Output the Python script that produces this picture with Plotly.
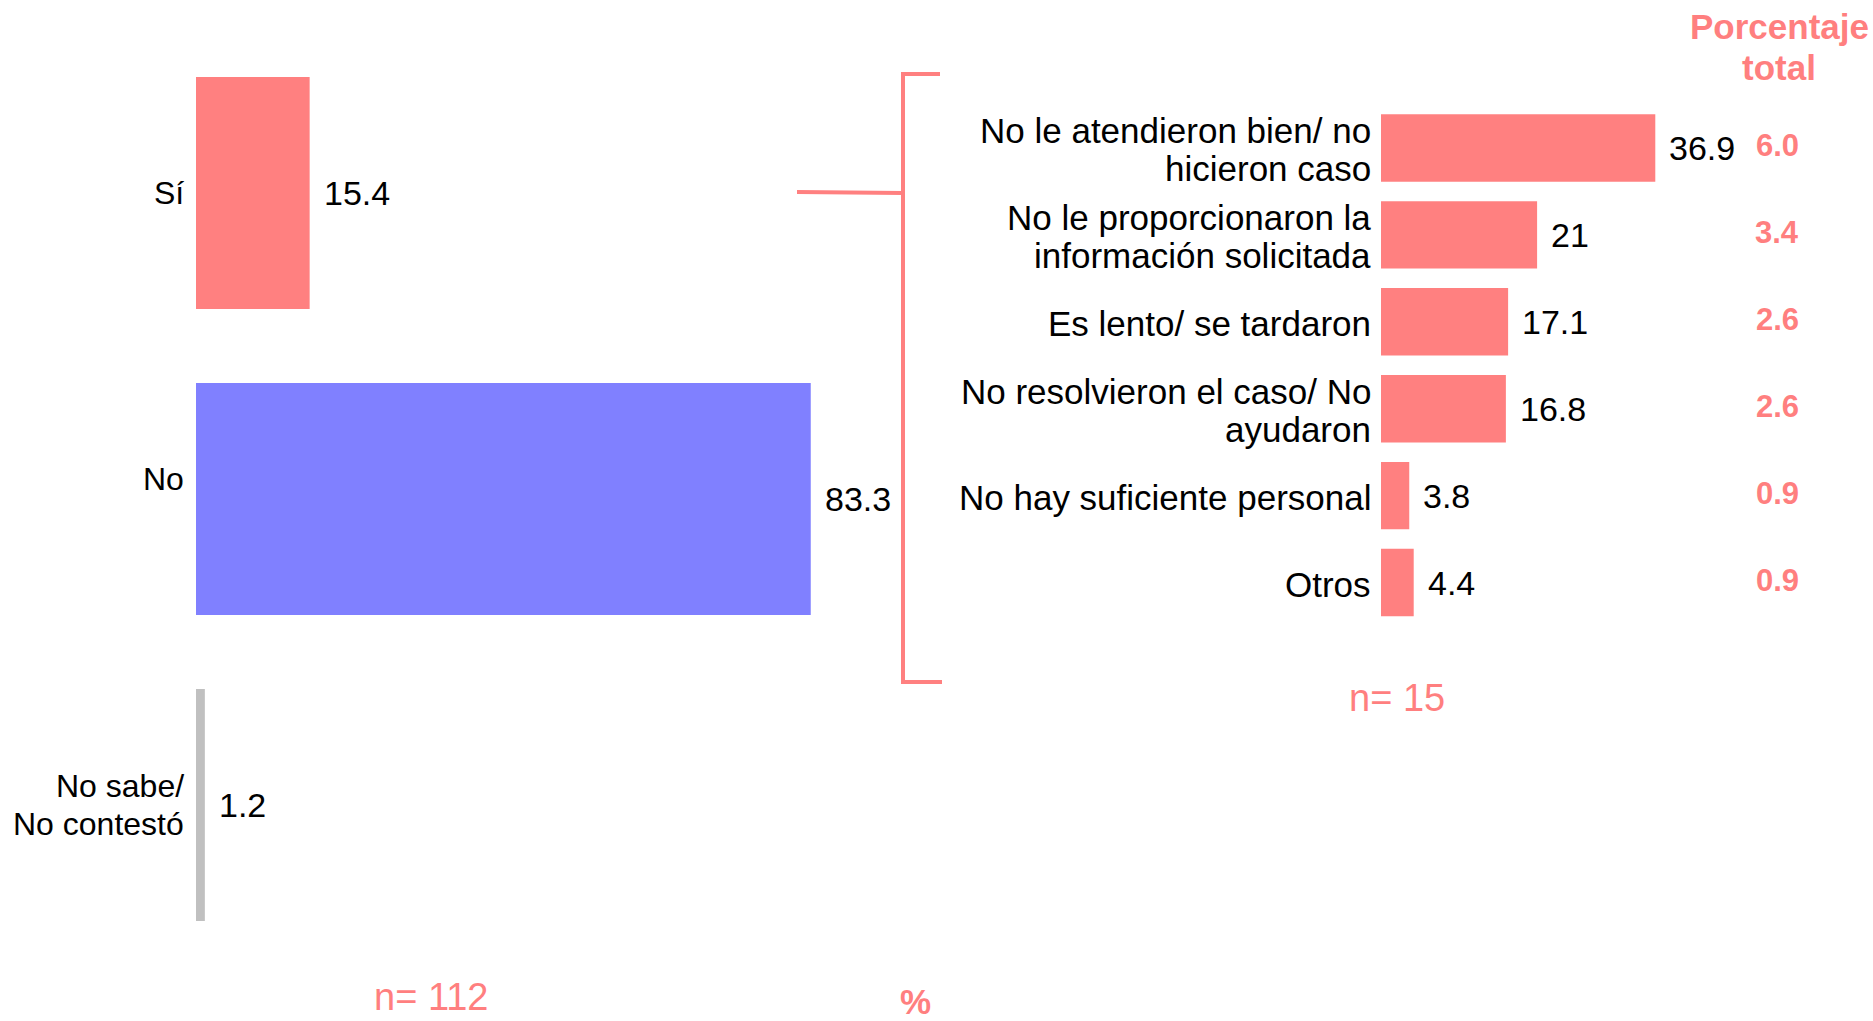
import plotly.graph_objects as go

# Pregunta principal
resp_labels = ["Sí", "No", "No sabe/<br>No contestó"]
resp_values = [15.4, 83.3, 1.2]
resp_colors = ["#FF8080", "#8080FF", "#C0C0C0"]

# Motivos (entre quienes respondieron "Sí")
motivo_labels = [
    "No le atendieron bien/ no<br>hicieron caso",
    "No le proporcionaron la<br>información solicitada",
    "Es lento/ se tardaron",
    "No resolvieron el caso/ No<br>ayudaron",
    "No hay suficiente personal",
    "Otros",
]
motivo_values = [36.9, 21, 17.1, 16.8, 3.8, 4.4]
motivo_total = ["6.0", "3.4", "2.6", "2.6", "0.9", "0.9"]

PINK = "#FF8080"
RED_TXT = "#FF7F7F"
FONT = "Arial, Liberation Sans, sans-serif"
W, H = 1873, 1021


def px_x(p):
    return p / W


def px_y(p):
    return (H - p) / H


fig = go.Figure()

fig.add_trace(go.Bar(
    x=resp_values, y=resp_labels, orientation="h",
    marker=dict(color=resp_colors, line=dict(width=0)),
    width=0.758, xaxis="x", yaxis="y", hoverinfo="skip",
))
fig.add_trace(go.Bar(
    x=motivo_values, y=motivo_labels, orientation="h",
    marker=dict(color=PINK, line=dict(width=0)),
    width=0.776, xaxis="x2", yaxis="y2", hoverinfo="skip",
))

annotations = []
LINE_GAP = 38


def category_label(text, y, xref, yref, xshift, size, yshift=0):
    lines = text.split("<br>")
    n = len(lines)
    for i, line in enumerate(lines):
        off = (i - (n - 1) / 2) * LINE_GAP
        annotations.append(dict(
            x=0, y=y, xref=xref, yref=yref, text=line, showarrow=False,
            xanchor="right", yanchor="middle", xshift=xshift,
            yshift=yshift - off,
            font=dict(family=FONT, size=size, color="black"),
        ))


def value_label(v, y, xref, yref, text):
    annotations.append(dict(
        x=v, y=y, xref=xref, yref=yref, text=text, showarrow=False,
        xanchor="left", yanchor="middle", xshift=12,
        font=dict(family=FONT, size=34, color="black"),
    ))


label_lift = {"No": 20}
for lab, v in zip(resp_labels, resp_values):
    category_label(lab, lab, "x", "y", -10, 32, label_lift.get(lab, 0))
    value_label(v, lab, "x", "y", f"{v:g}")

for lab, v, t in zip(motivo_labels, motivo_values, motivo_total):
    category_label(lab, lab, "x2", "y2", -8, 35, -2)
    value_label(v, lab, "x2", "y2", f"{v:g}")
    annotations.append(dict(
        x=px_x(1777), y=lab, xref="paper", yref="y2", text=t,
        showarrow=False, xanchor="center", yanchor="middle", yshift=2,
        font=dict(family=FONT, size=31, color=RED_TXT, weight="bold"),
    ))

# Encabezado de la columna de porcentaje total
for line, ypx in [("Porcentaje", 26), ("total", 67)]:
    annotations.append(dict(
        x=px_x(1779), y=px_y(ypx), xref="paper", yref="paper",
        text=line, showarrow=False, xanchor="center", yanchor="middle",
        font=dict(family=FONT, size=35, color=RED_TXT, weight="bold"),
    ))

annotations += [
    dict(x=px_x(431), y=px_y(997), xref="paper", yref="paper",
         text="n= 112", showarrow=False, xanchor="center", yanchor="middle",
         font=dict(family=FONT, size=38, color=RED_TXT)),
    dict(x=px_x(915), y=px_y(1001), xref="paper", yref="paper",
         text="%", showarrow=False, xanchor="center", yanchor="middle",
         font=dict(family=FONT, size=35, color=RED_TXT, weight="bold")),
    dict(x=px_x(1397), y=px_y(698), xref="paper", yref="paper",
         text="n= 15", showarrow=False, xanchor="center", yanchor="middle",
         font=dict(family=FONT, size=38, color=RED_TXT)),
]

# Corchete que une "Sí" con el desglose de motivos
bracket = (f"M {px_x(940)} {px_y(74)} L {px_x(903)} {px_y(74)} "
           f"L {px_x(903)} {px_y(682)} L {px_x(942)} {px_y(682)}")
shapes = [
    dict(type="path", path=bracket, xref="paper", yref="paper",
         line=dict(color=PINK, width=4)),
    dict(type="line", x0=px_x(797), y0=px_y(192), x1=px_x(903), y1=px_y(193),
         xref="paper", yref="paper", line=dict(color=PINK, width=4)),
]

hidden = dict(showgrid=False, zeroline=False, showticklabels=False,
              showline=False, ticks="")

fig.update_layout(
    width=W, height=H,
    margin=dict(l=0, r=0, t=0, b=0),
    paper_bgcolor="white", plot_bgcolor="white",
    showlegend=False,
    xaxis=dict(domain=[px_x(196), px_x(934)], range=[0, 100], **hidden),
    yaxis=dict(domain=[px_y(958), px_y(40)], range=[2.5, -0.5],
               type="category", **hidden),
    xaxis2=dict(domain=[px_x(1381), px_x(1827)], range=[0, 60],
                anchor="y2", **hidden),
    yaxis2=dict(domain=[px_y(626), px_y(104.5)], range=[5.5, -0.5],
                type="category", anchor="x2", **hidden),
    annotations=annotations,
    shapes=shapes,
)

fig.write_html("out.html")
